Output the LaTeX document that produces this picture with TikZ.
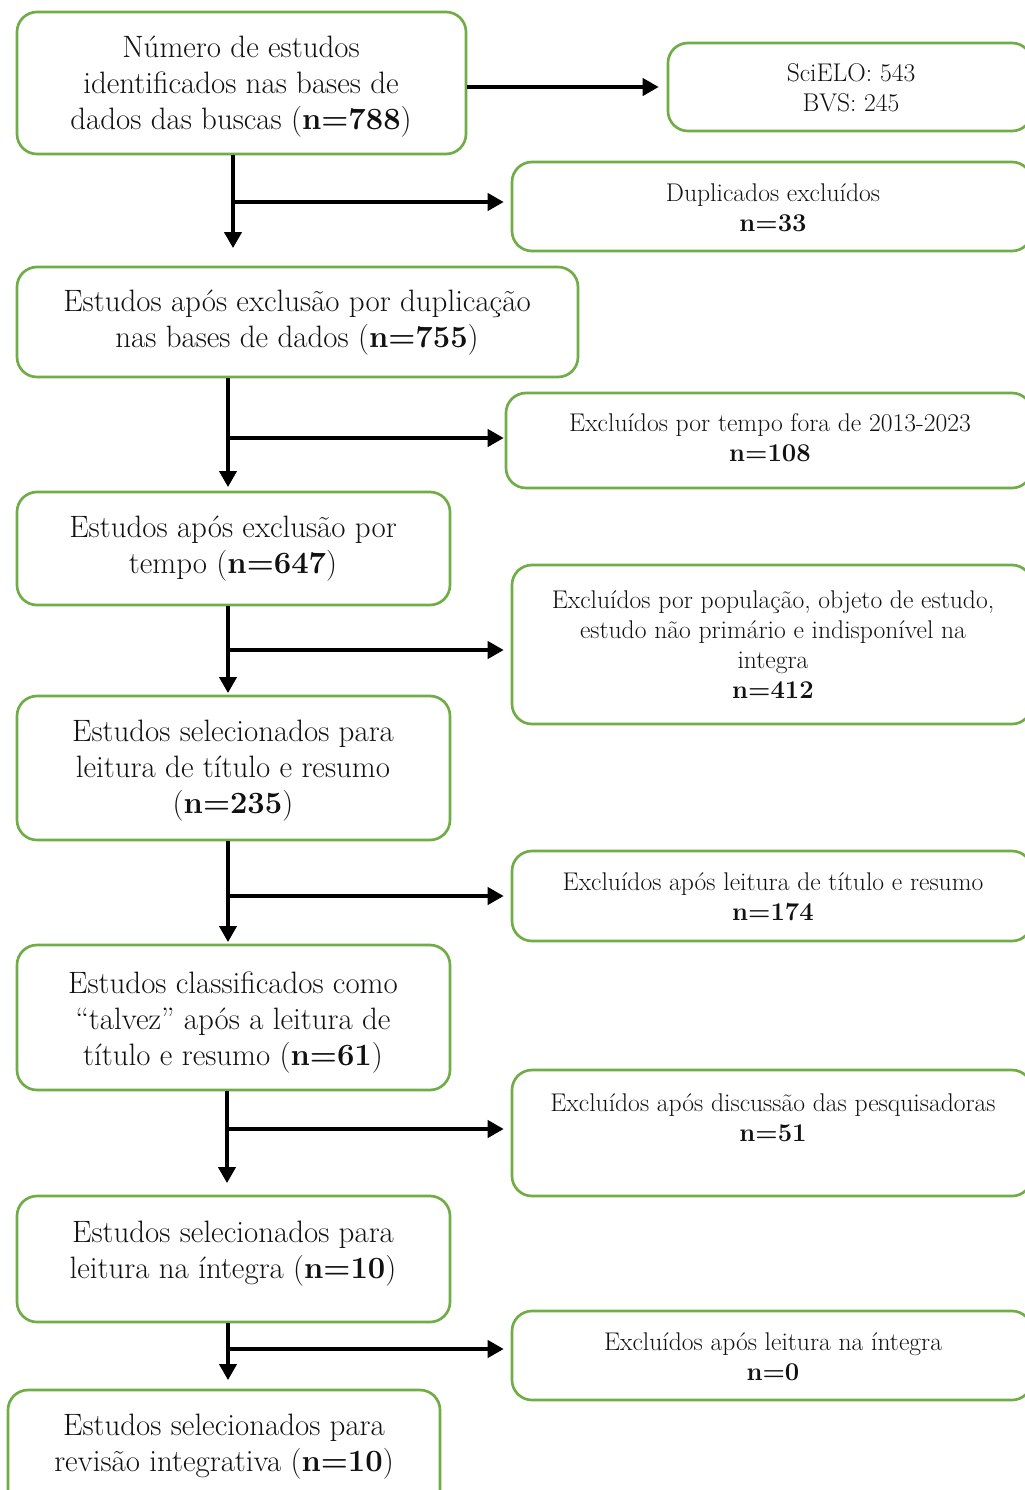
\documentclass[tikz,border=0pt]{standalone}
\usetikzlibrary{arrows.meta}
\definecolor{boxgreen}{HTML}{70AD47}
\definecolor{inkc}{HTML}{111111}
\begin{document}
\begin{tikzpicture}[x=0.75pt,y=-0.75pt,
  rbox/.style={draw=boxgreen, line width=2pt, rounded corners=15pt, rectangle, inner sep=0pt, fill=white},
  bigtxt/.style={align=center, inner sep=0pt, text=inkc, font=\fontsize{23.2}{27}\selectfont},
  smalltxt/.style={align=center, inner sep=0pt, text=inkc, font=\fontsize{19.2}{22.5}\selectfont},
  arr/.style={line width=2.4pt, draw=black, -{Triangle[length=12pt,width=13pt]}}]
\useasboundingbox (0,0) rectangle (1025,1490);
\fill[white] (0,0) rectangle (1025,1490);
\clip (0,0) rectangle (1025,1490);

% boxes
\node[rbox, minimum width=336.75pt, minimum height=106.5pt] (b1) at (241.5,83) {};
\node[rbox, minimum width=273pt, minimum height=66pt] (bsci) at (850,87) {};
\node[rbox, minimum width=390pt, minimum height=66.75pt] (bdup) at (772,206.5) {};
\node[rbox, minimum width=420.75pt, minimum height=82.5pt] (b2) at (297.5,322) {};
\node[rbox, minimum width=394.5pt, minimum height=71.25pt] (btemp) at (769,440.5) {};
\node[rbox, minimum width=324.75pt, minimum height=84.75pt] (b3) at (233.5,548.5) {};
\node[rbox, minimum width=390pt, minimum height=119.25pt] (bpop) at (772,644.5) {};
\node[rbox, minimum width=324.75pt, minimum height=108pt] (b4) at (233.5,768) {};
\node[rbox, minimum width=390pt, minimum height=67.5pt] (b174) at (772,896) {};
\node[rbox, minimum width=324.75pt, minimum height=108.75pt] (b5) at (233.5,1017.5) {};
\node[rbox, minimum width=390pt, minimum height=94.5pt] (b51) at (772,1133) {};
\node[rbox, minimum width=324.75pt, minimum height=94.5pt] (b6) at (233.5,1259) {};
\node[rbox, minimum width=390pt, minimum height=66.75pt] (b0) at (772,1355.5) {};
\node[rbox, minimum width=324pt, minimum height=90pt] (b7) at (224,1450) {};

% texts
\node[bigtxt] (b1t) at (241,87) {Número de estudos\\identificados nas bases de\\dados das buscas (\textbf{n=788})};
\node[smalltxt] (bscit) at (851,88) {SciELO: 543\\BVS: 245};
\node[smalltxt] (bdupt) at (773,208) {Duplicados excluídos\\\textbf{n=33}};
\node[bigtxt] (b2t) at (297,323) {Estudos após exclusão por duplicação\\nas bases de dados (\textbf{n=755})};
\node[smalltxt] (btempt) at (770,438) {Excluídos por tempo fora de 2013-2023\\\textbf{n=108}};
\node[bigtxt] (b3t) at (233,549) {Estudos após exclusão por\\tempo (\textbf{n=647})};
\node[smalltxt] (bpopt) at (773,645) {Excluídos por população, objeto de estudo,\\estudo não primário e indisponível na\\integra\\\textbf{n=412}};
\node[bigtxt] (b4t) at (233,771) {Estudos selecionados para\\leitura de título e resumo\\(\textbf{n=235})};
\node[smalltxt] (b174t) at (773,897) {Excluídos após leitura de título e resumo\\\textbf{n=174}};
\node[bigtxt] (b5t) at (233,1022) {Estudos classificados como\\“talvez” após a leitura de\\título e resumo (\textbf{n=61})};
\node[smalltxt] (b51t) at (773,1118) {Excluídos após discussão das pesquisadoras\\\textbf{n=51}};
\node[bigtxt] (b6t) at (233,1254) {Estudos selecionados para\\leitura na íntegra (\textbf{n=10})};
\node[smalltxt] (b0t) at (773,1357) {Excluídos após leitura na íntegra\\\textbf{n=0}};
\node[bigtxt] (b7t) at (224,1447) {Estudos selecionados para\\revisão integrativa (\textbf{n=10})};

% joints and arrow ends
\coordinate (j1) at (233,202);  \coordinate (e1) at (233,248);
\coordinate (j2) at (228,438);  \coordinate (e2) at (228,487);
\coordinate (j3) at (228,650);  \coordinate (e3) at (228,693);
\coordinate (j4) at (228,896);  \coordinate (e4) at (228,942);
\coordinate (j5) at (227,1129); \coordinate (e5) at (227,1183);
\coordinate (j6) at (228,1349); \coordinate (e6) at (228,1380);

% connectors
\draw[arr, shorten >=6pt] (b1.east |- bsci.west) -- (bsci.west);
\draw[arr] (b1.south -| e1) -- (e1);
\draw[arr, shorten >=5.25pt] (j1) -- (bdup.west |- j1);
\draw[arr] (b2.south -| e2) -- (e2);
\draw[arr, shorten >=0.75pt] (j2) -- (btemp.west |- j2);
\draw[arr] (b3.south -| e3) -- (e3);
\draw[arr, shorten >=5.25pt] (j3) -- (bpop.west |- j3);
\draw[arr] (b4.south -| e4) -- (e4);
\draw[arr, shorten >=5.25pt] (j4) -- (b174.west |- j4);
\draw[arr] (b5.south -| e5) -- (e5);
\draw[arr, shorten >=5.25pt] (j5) -- (b51.west |- j5);
\draw[arr] (b6.south -| e6) -- (e6);
\draw[arr, shorten >=5.25pt] (j6) -- (b0.west |- j6);
\end{tikzpicture}
\end{document}
